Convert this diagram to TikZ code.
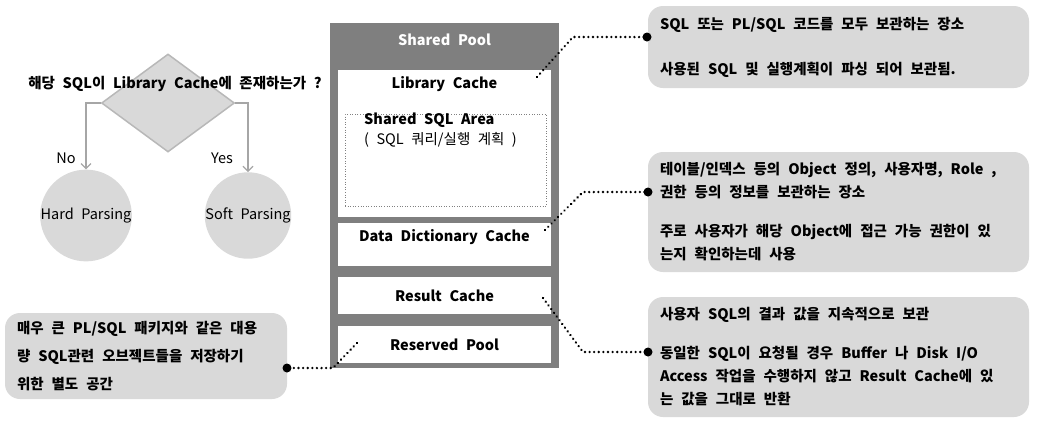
\documentclass[tikz,border=0pt]{standalone}
\usepackage{fontspec}
\setmainfont{Noto Sans CJK KR}[WordSpace=2.3]
\usetikzlibrary{shapes.geometric,arrows.meta}
\definecolor{lgray}{HTML}{D9D9D9}
\definecolor{dgray}{HTML}{7F7F7F}
\definecolor{bgray}{HTML}{A6A6A6}
\tikzset{
  txt/.style={font=\fontsize{14.5}{23}\selectfont, inner sep=0pt},
  btxt/.style={font=\fontsize{14.5}{23}\selectfont\bfseries, inner sep=0pt},
  callout/.style={fill=lgray, rounded corners=15pt, align=flush left, font=\fontsize{14.5}{23}\selectfont\bfseries, inner ysep=0pt, execute at begin node={\spaceskip=0.55em\relax}},
  whitebox/.style={fill=white, inner sep=0pt, minimum width=213pt},
  dotline/.style={line width=2.6pt, line cap=round, dash pattern=on 0.01pt off 4.6pt, black},
  arr/.style={draw=bgray, line width=1.2pt, -{Straight Barb[length=5pt,width=10pt]}},
}
\begin{document}
\begin{tikzpicture}[x=1pt,y=-1pt]
\useasboundingbox (0,0) rectangle (1037,440);
% decision
\node[diamond, fill=lgray, draw=bgray!80, line width=1.5pt, minimum width=133pt, minimum height=98pt, inner sep=0pt] (dia) at (168,103) {};
\node[btxt] (q) at (175,84) {해당 SQL이 Library Cache에 존재하는가 ?};
\node[circle, fill=lgray, minimum size=77pt, inner sep=0pt, txt] (hard) at (86,215.5) {Hard Parsing};
\node[circle, fill=lgray, minimum size=77pt, inner sep=0pt, txt] (soft) at (248,215.5) {Soft Parsing};
\draw[arr] (dia.west) -| (hard.north);
\draw[arr] (dia.east) -| (soft.north);
\node[txt] (no) at (66,158) {No};
\node[txt] (yes) at (222,158) {Yes};
% shared pool
\node[fill=dgray, minimum width=229pt, minimum height=345pt, inner sep=0pt] (sp) at (444.5,195.5) {};
\node[btxt, text=white] (spt) at (444.5,40) {Shared Pool};
\node[whitebox, minimum height=147pt] (lc) at (444.5,143.5) {};
\node[btxt] (lct) at (444.5,84) {Library Cache};
\node[draw=gray, dotted, line width=0.6pt, minimum width=201pt, minimum height=92pt, inner sep=0pt] (sqla) at (445.5,160) {};
\node[txt, align=left, anchor=north west, font=\fontsize{14.5}{20}\selectfont] (sqlt) at (364,113) {\textbf{Shared SQL Area}\\( SQL 쿼리/실행 계획 )};
\node[whitebox, minimum height=43pt] (ddc) at (444.5,244.5) {};
\node[btxt] (ddct) at (444.5,237) {Data Dictionary Cache};
\node[whitebox, minimum height=37pt, btxt] (rc) at (444.5,295.5) {Result Cache};
\node[whitebox, minimum height=37pt, btxt] (rp) at (444.5,344.5) {Reserved Pool};
% callouts
\node[callout, minimum width=381pt, minimum height=82pt, text width=357pt, inner xsep=12pt] (c1) at (838.5,47) {SQL 또는 PL/SQL 코드를 모두 보관하는 장소\\[22pt]사용된 SQL 및 실행계획이 파싱 되어 보관됨.};
\node[callout, minimum width=381pt, minimum height=120pt, text width=357pt, inner xsep=12pt] (c2) at (838.5,212) {테이블/인덱스 등의 Object 정의, 사용자명, Role ,\\권한 등의 정보를 보관하는 장소\\[16pt]주로 사용자가 해당 Object에 접근 가능 권한이 있\\는지 확인하는데 사용};
\node[callout, minimum width=381pt, minimum height=120pt, text width=357pt, inner xsep=12pt] (c3) at (838.5,357) {사용자 SQL의 결과 값을 지속적으로 보관\\[16pt]동일한 SQL이 요청될 경우 Buffer 나 Disk I/O\\Access 작업을 수행하지 않고 Result Cache에 있\\는 값을 그대로 반환};
\node[callout, minimum width=282pt, minimum height=86pt, text width=258pt, inner xsep=12pt, font=\fontsize{14.5}{28}\selectfont\bfseries] (c4) at (146,356) {매우 큰 PL/SQL 패키지와 같은 대용\\량 SQL관련 오브젝트들을 저장하기\\위한 별도 공간};
% connectors
\coordinate (e1) at (537,77); \coordinate (k1) at (573,37); \coordinate (d1) at (647,37);
\coordinate (e2) at (545,230); \coordinate (k2) at (583,192); \coordinate (d2) at (648,192);
\coordinate (e3) at (543,298); \coordinate (k3) at (583,352); \coordinate (d3) at (648,352);
\coordinate (e4) at (357,343); \coordinate (k4) at (333,368); \coordinate (d4) at (287,368);
\draw[dotline] (e1) -- (k1) -- (d1);
\draw[dotline] (e2) -- (k2) -- (d2);
\draw[dotline] (e3) -- (k3) -- (d3);
\draw[dotline] (e4) -- (k4) -- (d4);
\foreach \d in {d1,d2,d3,d4} \fill (\d) circle (4.5pt);
\end{tikzpicture}
\end{document}
